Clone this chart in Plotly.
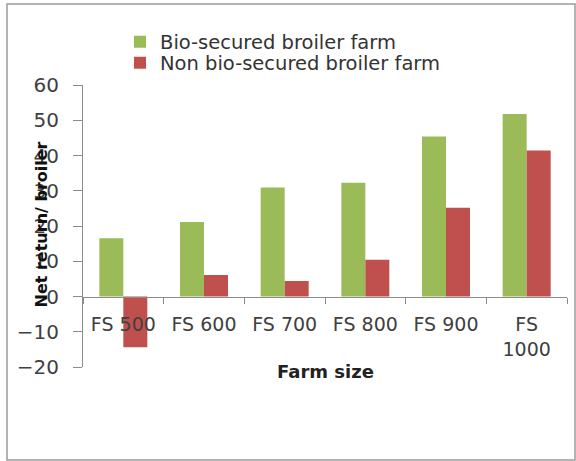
import plotly.graph_objects as go

categories = ["FS 500", "FS 600", "FS 700", "FS 800", "FS 900", "FS<br>1000"]
bio_secured = [16.5, 21.1, 30.9, 32.3, 45.4, 51.8]
non_bio_secured = [-14.4, 6.1, 4.4, 10.4, 25.2, 41.4]
series_names = ["Bio-secured broiler farm", "Non bio-secured broiler farm"]
y_ticks = [-20, -10, 0, 10, 20, 30, 40, 50, 60]

W, H = 576, 461
L, R, T, B = 83, 9, 85, 94
FONT = "DejaVu Sans"

pw = W - L - R
ph = H - T - B

def px_to_paper_x(px):
    return (px - L) / pw

def px_to_paper_y(py):
    return 1 - (py - T) / ph

fig = go.Figure()
fig.add_trace(go.Bar(x=categories, y=bio_secured, name=series_names[0],
                     marker=dict(color="#9BBB59", line=dict(width=0)),
                     legend="legend"))
fig.add_trace(go.Bar(x=categories, y=non_bio_secured, name=series_names[1],
                     marker=dict(color="#C0504D", line=dict(width=0)),
                     legend="legend2"))

ymin, ymax = -20, 60
zero_frac = (0 - ymin) / (ymax - ymin)

legend_style = dict(xanchor="left", yanchor="middle",
                    font=dict(size=19.5, color="#333"),
                    bgcolor="rgba(0,0,0,0)", itemwidth=30)

fig.update_layout(
    width=W, height=H,
    margin=dict(l=L, r=R, t=T, b=B),
    paper_bgcolor="white", plot_bgcolor="white",
    barmode="group", bargap=0.405, bargroupgap=0,
    font=dict(family=FONT, size=18, color="#404040"),
    showlegend=True,
    legend=dict(x=px_to_paper_x(120), y=px_to_paper_y(42), **legend_style),
    legend2=dict(x=px_to_paper_x(120), y=px_to_paper_y(63), **legend_style),
    xaxis=dict(anchor="free", position=zero_frac,
               showline=True, linecolor="#8c8c8c", linewidth=1,
               ticks="outside", tickson="boundaries", ticklen=6,
               tickcolor="#8c8c8c", showgrid=False,
               ticklabelstandoff=11,
               tickfont=dict(size=19, color="#404040")),
    yaxis=dict(range=[ymin, ymax], tickvals=y_ticks,
               showline=True, linecolor="#8c8c8c", linewidth=1,
               ticks="outside", ticklen=9, tickcolor="#8c8c8c",
               showgrid=False, zeroline=False,
               ticklabelstandoff=10,
               tickfont=dict(size=20, color="#404040")),
)

# axis titles
fig.add_annotation(text="<b>Net return/ broiler</b>", textangle=-90,
                   xref="paper", yref="paper",
                   x=px_to_paper_x(29), y=px_to_paper_y(225),
                   showarrow=False, font=dict(size=16, color="#111"))
fig.add_annotation(text="<b>Farm size</b>", xref="paper", yref="paper",
                   x=px_to_paper_x(325), y=px_to_paper_y(384),
                   showarrow=False, font=dict(size=18, color="#222"))

# chart frame
fig.add_shape(type="rect", xref="paper", yref="paper",
              x0=px_to_paper_x(7), x1=px_to_paper_x(575),
              y0=px_to_paper_y(460), y1=px_to_paper_y(4),
              line=dict(color="#9a9a9a", width=1.5), layer="below")

fig.write_html("out.html")
